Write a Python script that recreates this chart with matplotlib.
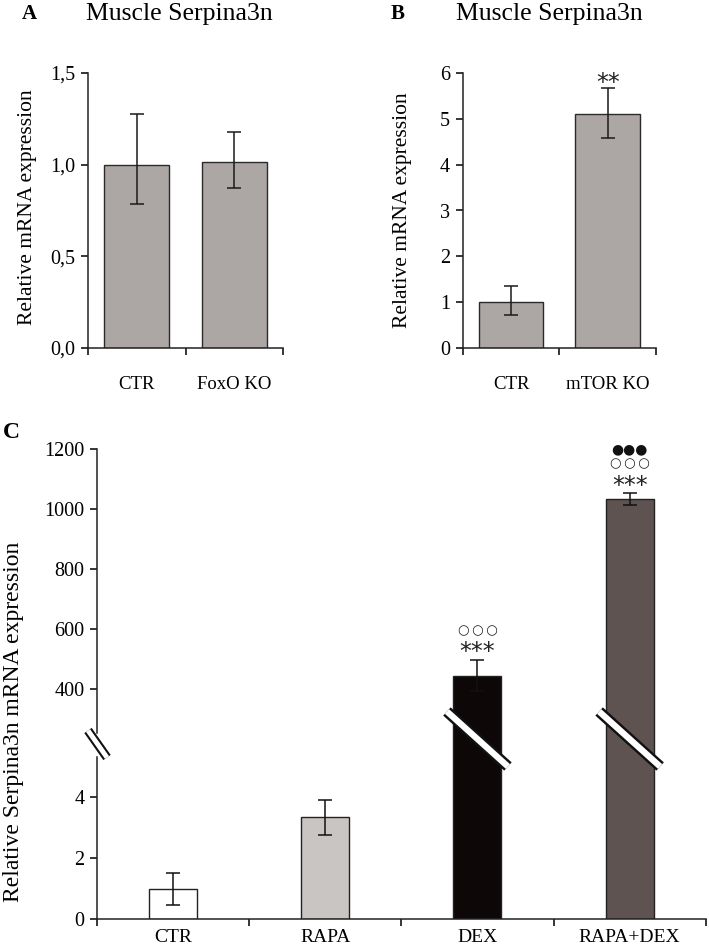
import numpy as np
import matplotlib
matplotlib.use('Agg')
import matplotlib.pyplot as plt
from matplotlib.lines import Line2D
from matplotlib.transforms import IdentityTransform

plt.rcParams['font.family'] = ['Liberation Serif', 'DejaVu Serif']

# Panel A
a_labels = ['CTR', 'FoxO KO']
a_vals = [1.0, 1.015]
a_err_lo = [0.215, 0.142]
a_err_hi = [0.275, 0.163]

# Panel B
b_labels = ['CTR', 'mTOR KO']
b_vals = [1.0, 5.09]
b_err_lo = [0.276, 0.52]
b_err_hi = [0.355, 0.58]
b_marks = ['', '**']

# Panel C
c_labels = ['CTR', 'RAPA', 'DEX', 'RAPA+DEX']
c_vals = [1.0, 3.34, 445, 1033]
c_err = [0.52, 0.58, 52, 20]
c_colors = ['#ffffff', '#c9c5c3', '#0d0708', '#5e5351']
c_stars = ['', '', '***', '***']
c_open = ['', '', '\u25cb\u2009\u25cb\u2009\u25cb', '\u25cb\u2009\u25cb\u2009\u25cb']
c_filled = ['', '', '', '\u25cf\u25cf\u25cf']

W, H = 709, 948
fig = plt.figure(figsize=(W / 100, H / 100), dpi=100)


def box(x0, y0, x1, y1):
    # pixel box (top-left origin) -> figure fraction
    return [x0 / W, 1 - y1 / H, (x1 - x0) / W, (y1 - y0) / H]


def style_small(ax, labels):
    for s in ['top', 'right']:
        ax.spines[s].set_visible(False)
    for s in ['left', 'bottom']:
        ax.spines[s].set_linewidth(1.1)
        ax.spines[s].set_color('#222222')
    n = len(labels)
    ax.set_xlim(-0.5, n - 0.5)
    ax.set_xticks(np.arange(n + 1) - 0.5)
    ax.set_xticklabels([''] * (n + 1))
    ax.set_xticks(np.arange(n), minor=True)
    ax.set_xticklabels(labels, minor=True, fontsize=13.5)
    ax.tick_params(axis='x', which='minor', length=0, pad=20)
    ax.tick_params(axis='x', which='major', length=5, width=1.1, direction='out')
    ax.tick_params(axis='y', length=5, width=1.1, labelsize=14.5, pad=4)


# ---- A
axA = fig.add_axes(box(88, 73, 283, 348))
x = np.arange(len(a_labels))
axA.bar(x, a_vals, width=0.67, color='#aca7a5', edgecolor='#2a2a2a', linewidth=1.0)
axA.errorbar(x, a_vals, yerr=[a_err_lo, a_err_hi], fmt='none', ecolor='#1a1a1a',
             elinewidth=1.1, capsize=5, capthick=1.1)
axA.set_ylim(0, 1.5)
axA.set_yticks([0, 0.5, 1.0, 1.5])
axA.set_yticklabels(['0,0', '0,5', '1,0', '1,5'])
style_small(axA, a_labels)
fig.text(28 / W, 1 - 207 / H, 'Relative mRNA expression', rotation=90,
         ha='center', va='center', fontsize=15.5)
fig.text(86 / W, 1 - 14 / H, 'Muscle Serpina3n', ha='left', va='center', fontsize=18.5)
fig.text(22 / W, 1 - 14 / H, 'A', ha='left', va='center', fontsize=15, fontweight='bold')

# ---- B
axB = fig.add_axes(box(462.7, 72.7, 656, 348.3))
x = np.arange(len(b_labels))
axB.bar(x, b_vals, width=0.67, color='#aca7a5', edgecolor='#2a2a2a', linewidth=1.0)
axB.errorbar(x, b_vals, yerr=[b_err_lo, b_err_hi], fmt='none', ecolor='#1a1a1a',
             elinewidth=1.1, capsize=5, capthick=1.1)
axB.set_ylim(0, 6)
axB.set_yticks(range(7))
style_small(axB, b_labels)
for i, m in enumerate(b_marks):
    if m:
        axB.text(i, b_vals[i] + b_err_hi[i] + 0.1, m, ha='center', va='center',
                 fontsize=17, family='DejaVu Sans', color='#222222')
fig.text(403 / W, 1 - 210 / H, 'Relative mRNA expression', rotation=90,
         ha='center', va='center', fontsize=15.5)
fig.text(456 / W, 1 - 14 / H, 'Muscle Serpina3n', ha='left', va='center', fontsize=18.5)
fig.text(391 / W, 1 - 14 / H, 'B', ha='left', va='center', fontsize=15, fontweight='bold')

# ---- C (broken axis)
top_y, mid_y, zero_y = 449.3, 745, 919.3
axT = fig.add_axes(box(97, top_y, 705.7, mid_y))
axL = fig.add_axes(box(97, mid_y, 705.7, zero_y))
xc = np.arange(len(c_labels))
for ax in (axT, axL):
    ax.patch.set_alpha(0)
    ax.bar(xc, c_vals, width=0.316, color=c_colors, edgecolor='#222222', linewidth=1.0)
    ax.errorbar(xc, c_vals, yerr=c_err, fmt='none', ecolor='#111111',
                elinewidth=1.1, capsize=5, capthick=1.1)
    for s in ['top', 'right']:
        ax.spines[s].set_visible(False)
    ax.spines['left'].set_linewidth(1.1)
    ax.spines['left'].set_color('#222222')
    ax.set_xlim(-0.5, len(c_labels) - 0.5)
    ax.tick_params(axis='y', length=5, width=1.1, labelsize=14.5, pad=4)

axT.set_ylim(214.3, 1200)
axT.spines['left'].set_bounds(254, 1200)
axT.spines['bottom'].set_visible(False)
axT.set_yticks([400, 600, 800, 1000, 1200])
axT.set_xticks([])

axL.set_ylim(0, 5.715)
axL.spines['left'].set_bounds(0, 5.32)
axL.set_yticks([0, 2, 4])
axL.spines['bottom'].set_linewidth(1.1)
axL.spines['bottom'].set_color('#222222')
axL.set_xticks(np.arange(len(c_labels) + 1) - 0.5)
axL.set_xticklabels([''] * (len(c_labels) + 1))
axL.set_xticks(xc, minor=True)
axL.set_xticklabels(c_labels, minor=True, fontsize=14)
axL.tick_params(axis='x', which='minor', length=0, pad=7)
axL.tick_params(axis='x', which='major', length=5, width=1.1, direction='out')

for i in xc:
    base = c_vals[i] + c_err[i]
    if c_stars[i]:
        axT.text(i, base + 26, c_stars[i], ha='center', va='center', fontsize=17,
                 family='DejaVu Sans', color='#222222')
        axT.text(i, base + 98, c_open[i], ha='center', va='center', fontsize=9.5,
                 family='DejaVu Sans', color='#222222')
    if c_filled[i]:
        axT.text(i, base + 146, c_filled[i], ha='center', va='center', fontsize=10,
                 family='DejaVu Sans', color='#111111')

fig.text(14 / W, 1 - 722 / H, 'Relative Serpina3n mRNA expression', rotation=90,
         ha='center', va='center', fontsize=17)
fig.text(3 / W, 1 - 432 / H, 'C', ha='left', va='center', fontsize=17, fontweight='bold')


# slashes across the tall bars and the axis break
def slash(xp, yp, dx, dy, black=8.0, white=4.5):
    pts_x = [xp - dx, xp + dx]
    pts_y = [H - (yp - dy), H - (yp + dy)]
    fig.add_artist(Line2D(pts_x, pts_y, transform=IdentityTransform(), color='#111111',
                          lw=black, solid_capstyle='butt', zorder=5))
    fig.add_artist(Line2D(pts_x, pts_y, transform=IdentityTransform(), color='white',
                          lw=white, solid_capstyle='butt', zorder=6))


fig.canvas.draw()
for i in xc:
    if c_vals[i] > 10:
        xp = axL.transData.transform((i, 0))[0]
        slash(xp, 739, 30.5, 27.5)
slash(97.5, 744, 9.5, 13.5, black=6.5, white=3.5)

fig.savefig('out.png', dpi=100)
